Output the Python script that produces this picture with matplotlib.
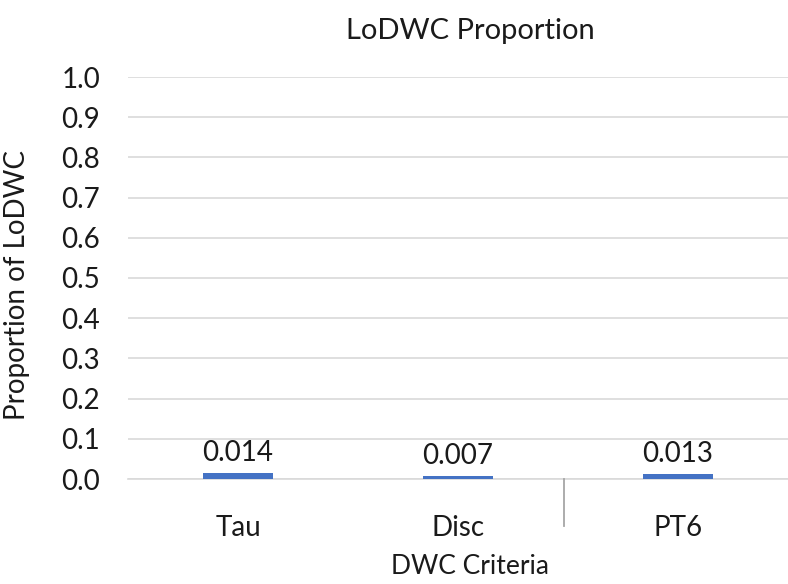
import matplotlib
matplotlib.use("Agg")
from matplotlib import pyplot as plt
import numpy as np

# data
categories = ["Tau", "Disc", "PT6"]
proportions = [0.014, 0.007, 0.013]
value_labels = ["0.014", "0.007", "0.013"]
y_ticks = [0.0, 0.1, 0.2, 0.3, 0.4, 0.5, 0.6, 0.7, 0.8, 0.9, 1.0]

plt.rcParams['font.family'] = ['Lato', 'DejaVu Sans']
txt = "#1a1a1a"

fig = plt.figure(figsize=(7.88, 5.84), dpi=100)
ax = fig.add_axes([128/788, 1-479/584, 660/788, (479-77)/584])

x = np.arange(len(categories))
bars = ax.bar(x, proportions, width=0.315, color="#4472c4", zorder=3)

for b, lab in zip(bars, value_labels):
    ax.annotate(lab, (b.get_x() + b.get_width()/2, b.get_height()),
                xytext=(0, 5), textcoords="offset points",
                ha="center", va="bottom", fontsize=20, color=txt)

ax.set_xlim(-0.5, 2.5)
ax.set_ylim(0, 1.0)
ax.set_yticks(y_ticks)
ax.set_yticklabels(["%.1f" % t for t in y_ticks])
ax.set_xticks(x)
ax.set_xticklabels(categories)
ax.tick_params(axis="both", length=0, labelsize=20, colors=txt)
ax.tick_params(axis="x", pad=26)
ax.tick_params(axis="y", pad=20)

ax.yaxis.grid(True, color="#d9d9d9", linewidth=1.2, zorder=0)
for s in ["top", "right", "left"]:
    ax.spines[s].set_visible(False)
ax.spines["bottom"].set_color("#d9d9d9")
ax.spines["bottom"].set_linewidth(1.2)

# the stray tick line below the axis between Disc and PT6
ax.plot([1.48, 1.48], [0, -0.117], color="#a6a6a6", linewidth=1.3,
        clip_on=False, zorder=4)

fig.text(470/788, 1-566/584, "DWC Criteria", ha="center", va="center",
         fontsize=19, color=txt)
fig.text(17/788, 1-285/584, "Proportion of LoDWC", ha="center", va="center",
         rotation=90, fontsize=20, color=txt)
fig.text(470/788, 1-31/584, "LoDWC Proportion", ha="center", va="center",
         fontsize=21, color=txt)

plt.savefig("out.png", dpi=100)
